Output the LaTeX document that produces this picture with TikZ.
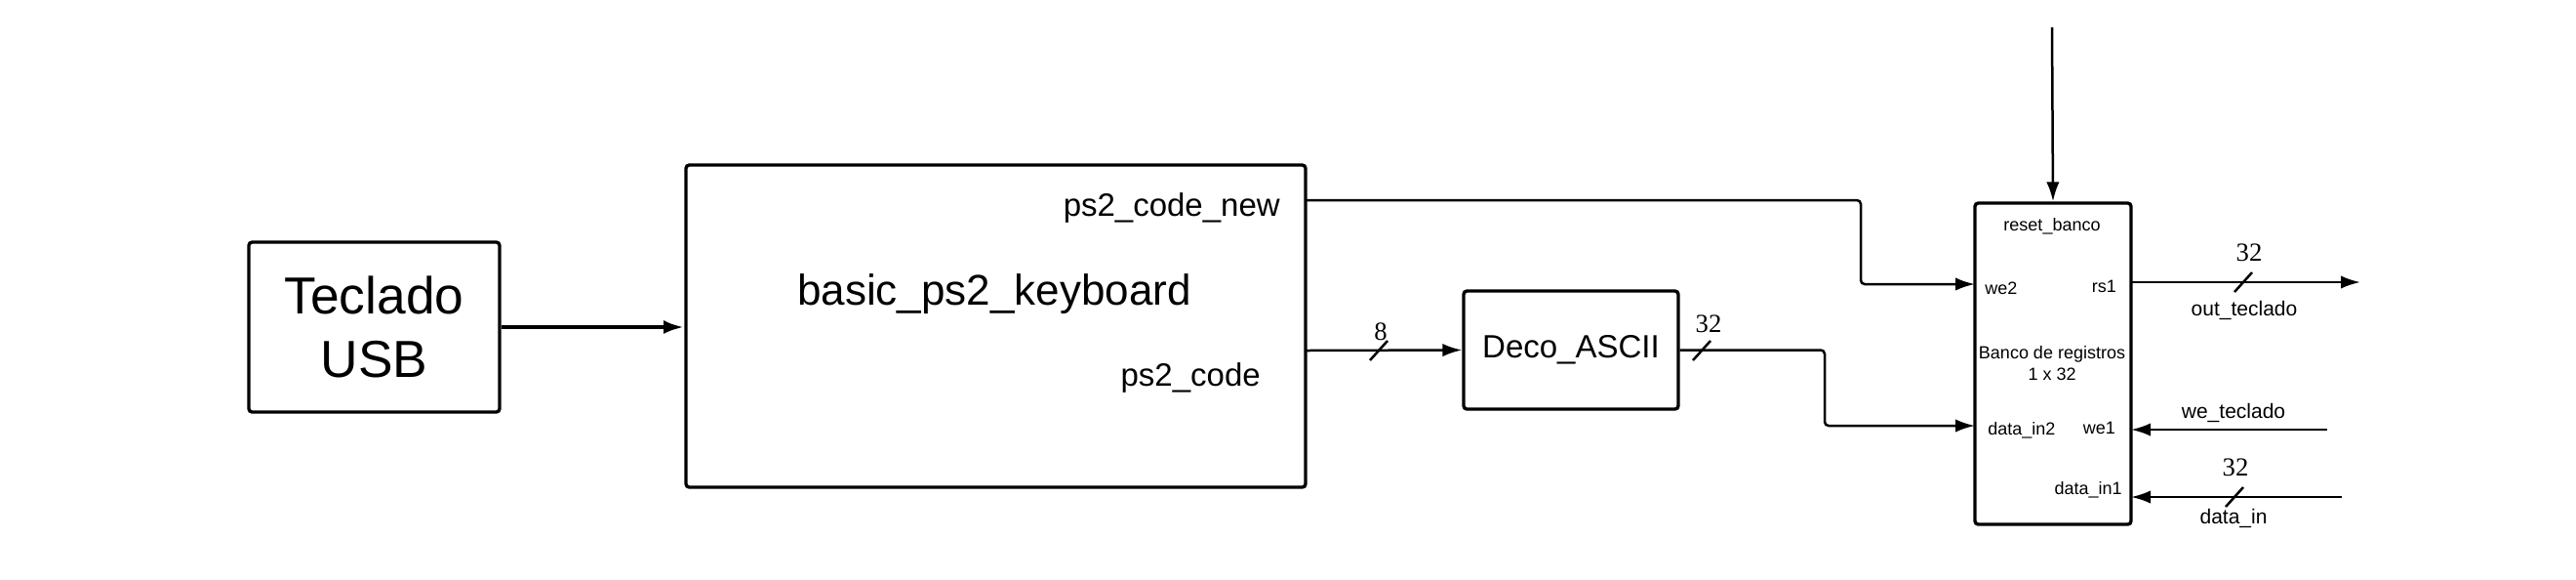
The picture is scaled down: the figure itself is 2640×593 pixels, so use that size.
\documentclass[tikz,border=0pt]{standalone}
\usepackage{fontspec}
\setmainfont{Liberation Sans}
\newfontfamily\numfont{Liberation Serif}
\usetikzlibrary{arrows.meta,positioning}

\begin{document}
\begin{tikzpicture}[x=0.3pt,y=-0.3pt,line width=0.75pt,
   >={Latex[length=6pt,width=4pt]},
   bloque/.style={draw,line width=1pt,rounded corners=1pt,inner sep=0pt},
   puerto/.style={font=\fontsize{5.4}{6.5}\selectfont,inner sep=0pt},
   senal/.style={font=\fontsize{6.3}{7.5}\selectfont,inner sep=0pt},
   pin/.style={font=\fontsize{9.9}{12}\selectfont,inner sep=0pt},
   ancho/.style={font=\numfont\fontsize{8}{9}\selectfont,inner sep=0pt}]
   \useasboundingbox (0,0) rectangle (2640,593);
   % bloques
   \node [bloque,minimum width=77.1pt,minimum height=52.2pt,align=center,
          font=\fontsize{16}{19.5}\selectfont] (teclado) at (383.5,335) {Teclado\\USB};
   \node [bloque,minimum width=190.5pt,minimum height=99pt] (ps2) at (1020.5,334) {};
   \node [bloque,minimum width=66pt,minimum height=36.3pt,
          font=\fontsize{9.9}{12}\selectfont] (deco) at (1610,358.5) {Deco\_ASCII};
   \node [bloque,minimum width=48pt,minimum height=98.7pt] (banco) at (2104,372.5) {};
   % textos del teclado ps2
   \node [anchor=base,inner sep=0pt,font=\fontsize{13.2}{15}\selectfont] (nombre) at (1019,312) {basic\_ps2\_keyboard};
   \node [pin,anchor=base east] (code_new) at (1313,221) {ps2\_code\_new};
   \node [pin,anchor=base east] (code) at (1293,395) {ps2\_code};
   % puertos del banco
   \node [puerto,anchor=base] (reset) at (2103,236) {reset\_banco};
   \node [puerto,anchor=base west] (we2) at (2033,301) {we2};
   \node [puerto,anchor=base east] (rs1) at (2170,299) {rs1};
   \node [puerto,anchor=base] (titulo) at (2103,367) {Banco de registros};
   \node [puerto,anchor=base] (tam) at (2103,389) {1 x 32};
   \node [puerto,anchor=base west] (in2) at (2036,445) {data\_in2};
   \node [puerto,anchor=base east] (we1) at (2169,444) {we1};
   \node [puerto,anchor=base east] (in1) at (2176,506) {data\_in1};
   % pines
   \coordinate (p_new) at (1338,205);
   \coordinate (p_code) at (1338,359);
   \coordinate (b_we2) at (2024,291);
   \coordinate (b_in2) at (2024,436);
   \coordinate (b_rs1) at (2184,289);
   \coordinate (b_we1) at (2184,440);
   \coordinate (b_in1) at (2184,509);
   \coordinate (c1) at (1907,0);
   \coordinate (c2) at (1870,0);
   \coordinate (rst) at (2103,28);
   \coordinate (sal) at (2419,289);
   \coordinate (wet) at (2385,440);
   \coordinate (din) at (2400,509);
    \draw[-{Latex[length=6.4pt,width=4.2pt]},line width=1.3pt] (teclado.east) -- (teclado.east -| ps2.west);
    \draw[->,rounded corners=1.2pt] (p_new) -| (c1 |- b_we2) -- (b_we2);
    \draw[->] (p_code) -- (deco.west);
    \draw[->,rounded corners=1.2pt] (deco.east) -| (c2 |- b_in2) -- (b_in2);
    \draw[->] (rst) -- (banco.north);
    \draw[->] (b_rs1) -- (sal);
    \draw[->] (wet) -- (b_we1);
    \draw[->] (din) -- (b_in1);
   % anchos de bus
   \foreach \bx/\by in {1413/359,1744/359,2299/289,2290/509}
     \draw (\bx-9,\by+10) -- (\bx+9,\by-10);
   \node [ancho,anchor=base] (a8) at (1415,348) {8};
   \node [ancho,anchor=base] (a32d) at (1751,340) {32};
   \node [ancho,anchor=base] (a32s) at (2305,267) {32};
   \node [ancho,anchor=base] (a32e) at (2291,487) {32};
   % senales externas
   \node [senal,anchor=base] (out) at (2300,323) {out\_teclado};
   \node [senal,anchor=base] (wetx) at (2289,428) {we\_teclado};
   \node [senal,anchor=base] (dinx) at (2289,536) {data\_in};
\end{tikzpicture}
\end{document}
